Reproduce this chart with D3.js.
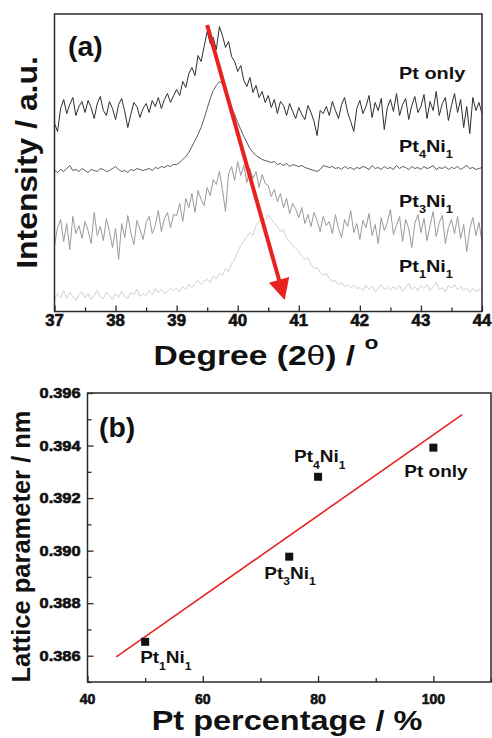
<!DOCTYPE html>
<html><head><meta charset="utf-8">
<script src="https://cdn.jsdelivr.net/npm/d3@7"></script>
<style>
body{margin:0;background:#fff}
svg text{font-family:"Liberation Sans",Arial,Helvetica,sans-serif;font-weight:bold;fill:#111}
svg text.xt, svg text.yt{stroke:#111;stroke-width:0.6px}
</style>
</head><body>
<svg id="c" width="492" height="738"></svg>
<script>
// ---------- Panel (a): XRD patterns ----------
const thetaTicks = [37, 38, 39, 40, 41, 42, 43, 44];
const thetaMinor = [37.5, 38.5, 39.5, 40.5, 41.5, 42.5, 43.5];
const thetaStart = 37, thetaStep = 0.05;   // sampling grid of the patterns (2θ)

// stacked intensities (a.u.), one value per 0.05°, 37.00 … 44.00
const ptOnly = [
 188,180,203,212,198,207,214,196,205,210,
 199,211,204,193,208,215,201,196,210,203,
 192,207,213,200,184,197,209,205,194,203,
 208,199,211,205,214,203,212,218,209,216,
 222,216,230,224,238,244,236,256,250,265,
 280,268,274,262,285,276,264,270,255,250,
 240,246,231,225,234,219,226,214,220,209,
 216,204,212,198,210,206,196,208,200,193,
 204,197,192,206,199,190,176,201,198,205,
 196,210,201,193,207,214,199,190,180,203,
 211,198,205,216,194,209,201,213,182,204,
 212,200,218,196,207,213,192,206,215,199,
 205,217,193,210,201,220,196,208,214,191,
 206,218,199,212,184,205,178,214,201,209,
 198];
const pt4ni1 = [
 141,139,142,140,143,146,141,142,140,143,
 141,139,142,141,140,143,142,140,141,143,
 145,142,140,141,139,142,141,143,142,141,
 142,143,141,144,143,145,144,146,145,147,
 147,149,152,155,159,165,171,177,184,193,
 203,213,221,226,230,228,220,212,204,197,
 189,182,175,169,163,159,156,154,152,151,
 150,149,150,147,148,146,148,145,147,146,
 145,146,144,143,142,141,140,142,146,145,
 144,145,143,144,142,145,143,144,142,144,
 143,145,144,142,146,143,144,142,145,143,
 144,142,146,143,145,144,142,145,143,144,
 142,145,143,144,146,142,144,143,145,142,
 144,143,145,142,144,146,143,144,142,143,
 144];
const pt3ni1 = [
 66,84,92,70,88,62,95,78,86,73,
 90,81,68,99,76,85,71,93,80,64,
 83,52,88,74,96,79,67,91,82,72,
 89,95,78,86,101,80,93,99,84,97,
 96,108,90,113,104,118,99,121,112,106,
 124,116,132,127,140,122,100,138,145,131,
 150,136,146,129,143,133,140,124,137,128,
 126,115,122,110,118,104,113,98,108,102,
 94,104,88,97,85,99,91,80,95,86,
 90,78,97,83,74,92,85,101,79,88,
 72,91,84,98,76,87,68,94,81,89,
 102,77,86,95,70,92,83,64,88,97,
 79,93,71,86,100,75,89,96,68,84,
 92,78,95,73,87,60,83,94,76,89,
 70];
const pt1ni1 = [
 12,18,14,21,13,19,15,11,17,20,
 14,18,12,16,21,15,13,19,16,12,
 18,14,20,15,13,19,17,22,15,18,
 16,21,17,23,19,22,18,20,24,21,
 23,20,25,22,27,24,28,31,27,30,
 32,29,35,33,38,36,43,40,48,52,
 60,66,70,75,79,76,86,90,94,91,
 97,92,88,85,80,82,73,70,66,63,
 60,55,52,54,47,43,44,39,36,38,
 33,30,31,27,29,25,27,24,26,23,
 24,21,26,22,25,20,23,27,22,24,
 21,25,22,26,20,24,28,22,25,21,
 26,23,27,21,25,29,22,24,20,26,
 23,27,22,25,21,24,19,23,20,22,
 21];
const xrdSeries = [ptOnly, pt4ni1, pt3ni1, pt1ni1];
const xrdNames = ["Pt only", "Pt4Ni1", "Pt3Ni1", "Pt1Ni1"];
const xrdColors = ["#2e2e2e", "#5a5a5a", "#9a9a9a", "#d0d0d0"];
const xrdLabelInt = [233, 160, 105, 40];   // label baselines (a.u.)
const arrowTheta = [39.5, 40.77];
const arrowInt = [286.5, 11.5];

// ---------- Panel (b): lattice parameter ----------
const ptPercent = [50, 75, 80, 100];
const lattice = [0.38653, 0.38977, 0.39281, 0.39392];
const sampleNames = ["Pt1Ni1", "Pt3Ni1", "Pt4Ni1", "Pt only"];
const fitRange = [45, 105];
const pctTicks = [40, 60, 80, 100];
const pctMinor = [50, 70, 90, 110];
const latTicks = [0.386, 0.388, 0.390, 0.392, 0.394, 0.396];
const latMinor = [0.385, 0.387, 0.389, 0.391, 0.393, 0.395];

const svg = d3.select("#c");
const RED = "#e8231f";
const FRAME = "#2a2a2a";

function richText(g, x, y, str, size, sx, anchor, rot) {
  const t = g.append("text")
    .attr("transform", `translate(${x},${y})${rot ? ` rotate(${rot})` : ""} scale(${sx},1)`)
    .attr("text-anchor", anchor || "start")
    .style("font-size", size + "px");
  const parts = str.split(/(\d)/).filter(s => s.length);
  let sub = false;
  const off = size * 0.38;
  parts.forEach(p => {
    const isDigit = /^\d$/.test(p) && str !== p;
    const ts = t.append("tspan").text(p);
    if (isDigit) {
      ts.style("font-size", (size * 0.64) + "px").attr("dy", sub ? 0 : off);
      sub = true;
    } else {
      ts.attr("dy", sub ? -off : 0);
      sub = false;
    }
  });
  return t;
}
function tickLines(g, axis) {
  g.call(axis).call(s => s.select(".domain").remove())
    .call(s => s.selectAll("text").remove())
    .call(s => s.selectAll("line").attr("stroke", FRAME).attr("stroke-width", 1.3));
}

// ===== Panel (a) =====
const xA = d3.scaleLinear([37, 44], [54.5, 482]);
const yA = d3.scaleLinear([0, 297.5], [311.5, 14]);
const gA = svg.append("g");

const line = d3.line()
  .x((d, i) => xA(thetaStart + i * thetaStep))
  .y(d => yA(d));

xrdSeries.forEach((s, k) => {
  gA.append("path").attr("d", line(s))
    .attr("fill", "none").attr("stroke", xrdColors[k]).attr("stroke-width", 1)
    .attr("stroke-linejoin", "round");
});

// arrow
{
  const p0 = [xA(arrowTheta[0]), yA(arrowInt[0])];
  const p1 = [xA(arrowTheta[1]), yA(arrowInt[1])];
  const dx = p1[0] - p0[0], dy = p1[1] - p0[1], L = Math.hypot(dx, dy);
  const u = [dx / L, dy / L], n = [-u[1], u[0]];
  const hl = 21, hw = 10.5;
  const b = [p1[0] - u[0] * hl, p1[1] - u[1] * hl];
  gA.append("line").attr("x1", p0[0]).attr("y1", p0[1])
    .attr("x2", b[0] + u[0] * 2).attr("y2", b[1] + u[1] * 2)
    .attr("stroke", RED).attr("stroke-width", 4);
  gA.append("polygon")
    .attr("points", [p1, [b[0] + n[0] * hw, b[1] + n[1] * hw], [b[0] - n[0] * hw, b[1] - n[1] * hw]].map(p => p.join(",")).join(" "))
    .attr("fill", RED);
}

// axes (a)
gA.append("g").attr("transform", `translate(0,${yA(0)})`)
  .call(g => tickLines(g, d3.axisBottom(xA).tickValues(thetaTicks).tickSize(-6)));
gA.append("g").attr("transform", `translate(0,${yA(0)})`)
  .call(g => tickLines(g, d3.axisBottom(xA).tickValues(thetaMinor).tickSize(-4)));
gA.selectAll("text.xt").data(thetaTicks).join("text").attr("class", "xt")
  .attr("transform", d => `translate(${xA(d)},${yA(0) + 14}) scale(1.05,1)`)
  .attr("text-anchor", "middle")
  .style("font-size", "16px").text(d3.format("d"));
gA.append("rect").attr("x", xA(37)).attr("y", yA(297.5))
  .attr("width", xA(44) - xA(37)).attr("height", yA(0) - yA(297.5))
  .attr("fill", "none").attr("stroke", FRAME).attr("stroke-width", 1.5);

xrdNames.forEach((nm, k) => richText(gA, 399, yA(xrdLabelInt[k]) , nm, 17, 1.17));
richText(gA, 68, 56, "(a)", 27, 1.05);

// titles (a)
{
  const t = gA.append("text").attr("transform", "translate(266,365) scale(1.2,1)")
    .attr("text-anchor", "middle").style("font-size", "28px");
  t.append("tspan").text("Degree (2");
  t.append("tspan").text("θ").style("font-weight", "normal");
  t.append("tspan").text(") / ");
  t.append("tspan").text("o").style("font-size", "19px").attr("dy", -16);
}
gA.append("text").attr("transform", "translate(36.5,162.5) rotate(-90) scale(1.1,1)")
  .attr("text-anchor", "middle").style("font-size", "29px").text("Intensity / a.u.");

// ===== Panel (b) =====
const xB = d3.scaleLinear([40, 110], [87.5, 491]);
const yB = d3.scaleLinear([0.385, 0.396], [682, 393]);
const gB = svg.append("g");

gB.append("g").attr("transform", `translate(0,${yB(0.385)})`)
  .call(g => tickLines(g, d3.axisBottom(xB).tickValues(pctTicks).tickSize(-6)));
gB.append("g").attr("transform", `translate(0,${yB(0.385)})`)
  .call(g => tickLines(g, d3.axisBottom(xB).tickValues(pctMinor).tickSize(-4)));
gB.append("g").attr("transform", `translate(${xB(40)},0)`)
  .call(g => tickLines(g, d3.axisLeft(yB).tickValues(latTicks).tickSize(-6)));
gB.append("g").attr("transform", `translate(${xB(40)},0)`)
  .call(g => tickLines(g, d3.axisLeft(yB).tickValues(latMinor).tickSize(-4)));

gB.selectAll("text.xt").data(pctTicks).join("text").attr("class", "xt")
  .attr("x", d => xB(d)).attr("y", yB(0.385) + 21.5).attr("text-anchor", "middle")
  .style("font-size", "14px").text(d3.format("d"));
gB.selectAll("text.yt").data(latTicks).join("text").attr("class", "yt")
  .attr("transform", d => `translate(${xB(40) - 7},${yB(d) + 5}) scale(1.17,1)`)
  .attr("text-anchor", "end").style("font-size", "14px").text(d3.format(".3f"));

// least-squares fit line
{
  const n = ptPercent.length;
  const mx = d3.mean(ptPercent), my = d3.mean(lattice);
  let sxy = 0, sxx = 0;
  for (let i = 0; i < n; i++) { sxy += (ptPercent[i] - mx) * (lattice[i] - my); sxx += (ptPercent[i] - mx) ** 2; }
  const slope = sxy / sxx, icpt = my - slope * mx;
  gB.append("path")
    .attr("d", d3.line().x(d => xB(d)).y(d => yB(icpt + slope * d))(fitRange))
    .attr("stroke", RED).attr("stroke-width", 1.6).attr("fill", "none");
}

gB.selectAll("rect.pt").data(ptPercent).join("rect").attr("class", "pt")
  .attr("x", d => xB(d) - 4).attr("y", (d, i) => yB(lattice[i]) - 4)
  .attr("width", 8).attr("height", 8).attr("fill", "#111");

gB.append("rect").attr("x", xB(40)).attr("y", yB(0.396))
  .attr("width", xB(110) - xB(40)).attr("height", yB(0.385) - yB(0.396))
  .attr("fill", "none").attr("stroke", FRAME).attr("stroke-width", 1.5);

// sample labels (b): offsets relative to each point
const labelDx = [-5, -25, -24, -29];
const labelDy = [21.5, 22.5, -14.5, 29.5];
sampleNames.forEach((nm, i) =>
  richText(gB, xB(ptPercent[i]) + labelDx[i], yB(lattice[i]) + labelDy[i], nm, 16.5, 1.15));

richText(gB, 99, 437, "(b)", 27, 1.05);

gB.append("text").attr("transform", "translate(287,730) scale(1.16,1)")
  .attr("text-anchor", "middle").style("font-size", "28px").text("Pt percentage / %");
gB.append("text").attr("transform", "translate(30,546.5) rotate(-90)")
  .attr("text-anchor", "middle").style("font-size", "25.5px").text("Lattice parameter / nm");
</script>
</body></html>
